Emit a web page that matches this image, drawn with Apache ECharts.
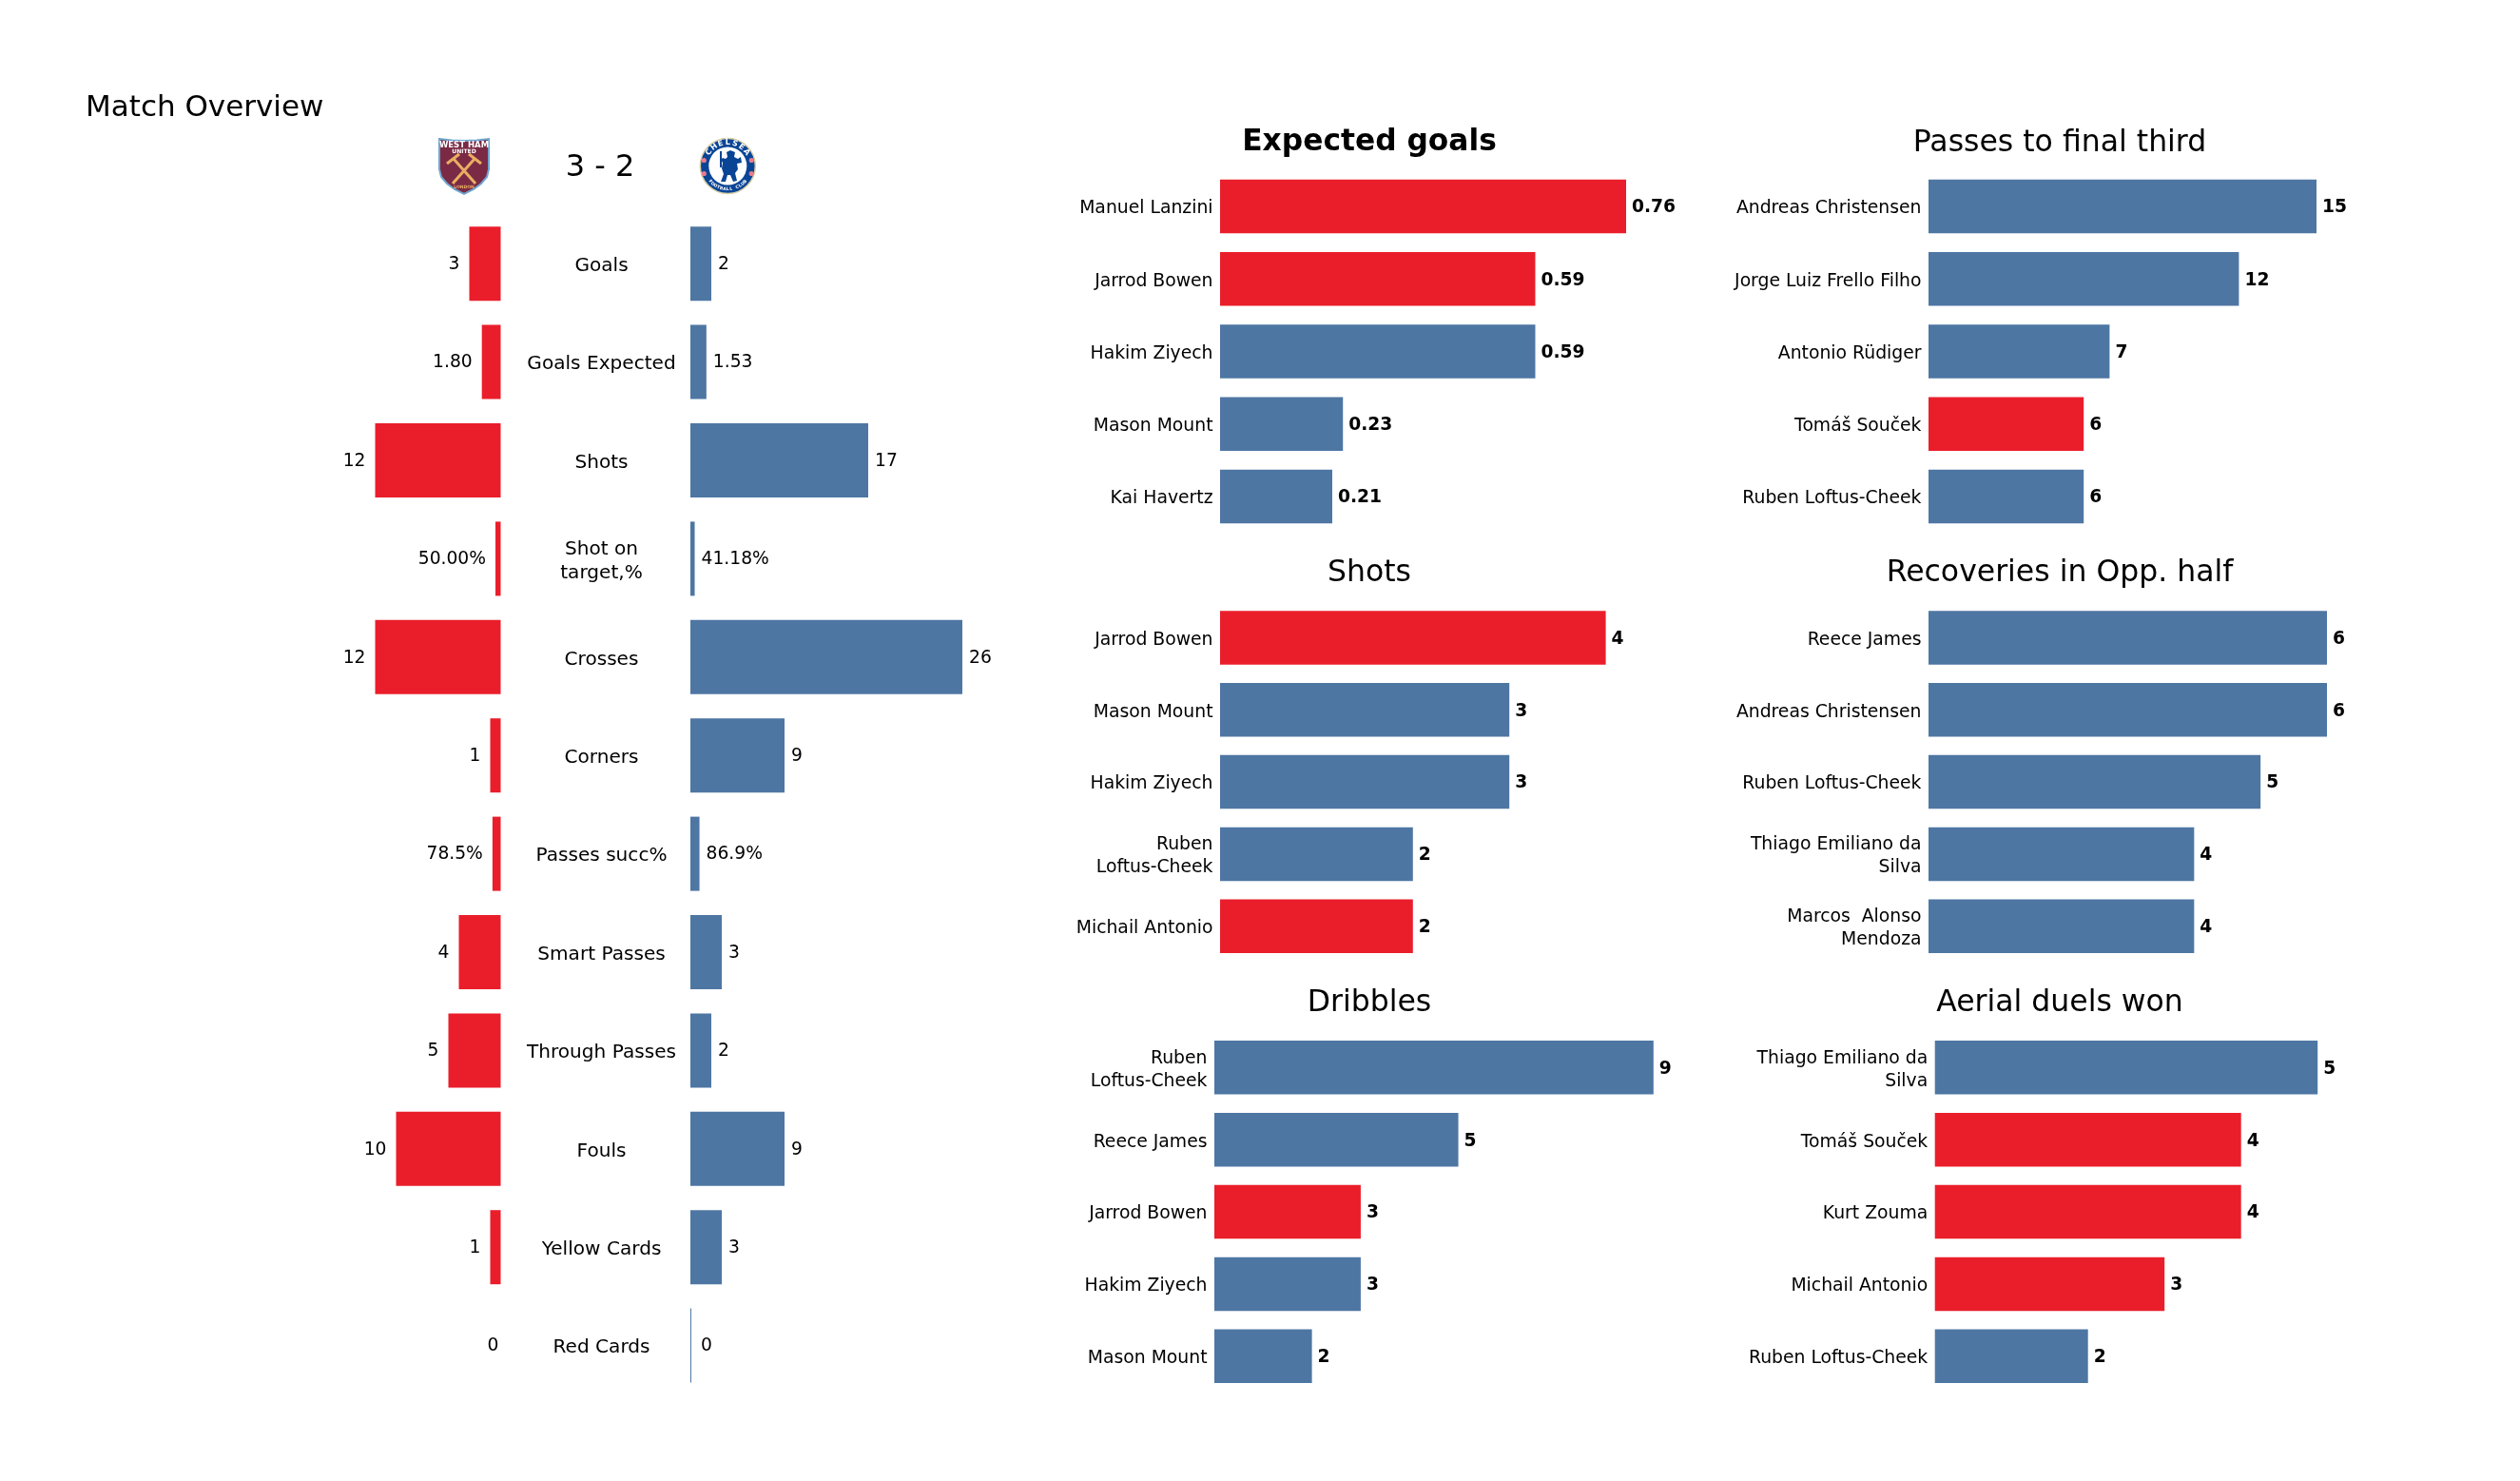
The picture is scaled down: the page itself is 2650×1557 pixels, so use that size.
<!DOCTYPE html>
<html>
<head>
<meta charset="utf-8">
<style>html,body{margin:0;padding:0;background:#fff}#c{width:2650px;height:1557px}</style>
<script src="https://cdn.jsdelivr.net/npm/echarts@6/dist/echarts.min.js"></script>
</head>
<body>
<div id="c"></div>
<script>
// ---- DATA ----
const overviewCategories = ['Goals','Goals Expected','Shots','Shot on\ntarget,%','Crosses','Corners','Passes succ%','Smart Passes','Through Passes','Fouls','Yellow Cards','Red Cards'];
const homeValues = [3,1.80,12,0.50,12,1,0.785,4,5,10,1,0];
const awayValues = [2,1.53,17,0.4118,26,9,0.869,3,2,9,3,0];
const homeLabels = ['3','1.80','12','50.00%','12','1','78.5%','4','5','10','1','0'];
const awayLabels = ['2','1.53','17','41.18%','26','9','86.9%','3','2','9','3','0'];

const xgNames = ['Manuel Lanzini','Jarrod Bowen','Hakim Ziyech','Mason Mount','Kai Havertz'];
const xgValues = [0.76,0.59,0.59,0.23,0.21];
const xgTeams = ['H','H','A','A','A'];

const passNames = ['Andreas Christensen','Jorge Luiz Frello Filho','Antonio Rüdiger','Tomáš Souček','Ruben Loftus-Cheek'];
const passValues = [15,12,7,6,6];
const passTeams = ['A','A','A','H','A'];

const shotNames = ['Jarrod Bowen','Mason Mount','Hakim Ziyech','Ruben\nLoftus-Cheek','Michail Antonio'];
const shotValues = [4,3,3,2,2];
const shotTeams = ['H','A','A','A','H'];

const recoveryNames = ['Reece James','Andreas Christensen','Ruben Loftus-Cheek','Thiago Emiliano da\nSilva','Marcos  Alonso\nMendoza'];
const recoveryValues = [6,6,5,4,4];
const recoveryTeams = ['A','A','A','A','A'];

const dribbleNames = ['Ruben\nLoftus-Cheek','Reece James','Jarrod Bowen','Hakim Ziyech','Mason Mount'];
const dribbleValues = [9,5,3,3,2];
const dribbleTeams = ['A','A','H','A','A'];

const aerialNames = ['Thiago Emiliano da\nSilva','Tomáš Souček','Kurt Zouma','Michail Antonio','Ruben Loftus-Cheek'];
const aerialValues = [5,4,4,3,2];
const aerialTeams = ['A','H','H','H','A'];

const scoreText = '3 - 2';
const mainTitle = 'Match Overview';

// ---- STYLE / LAYOUT ----
const FONT = '"DejaVu Sans", sans-serif';
const RED = '#EA1E2B', BLUE = '#4E76A3';
const teamColor = t => t === 'H' ? RED : BLUE;

const panels = [
  {title:'Expected goals', bold:true, names:xgNames, values:xgValues, teams:xgTeams, digits:2, left:1283, width:427, top:179, height:381, cx:1440, base:161.4},
  {title:'Passes to final third', names:passNames, values:passValues, teams:passTeams, left:2028, width:408, top:179, height:381, cx:2166, base:161.4},
  {title:'Shots', names:shotNames, values:shotValues, teams:shotTeams, left:1283, width:405.6, top:632.6, height:379, cx:1440, base:614},
  {title:'Recoveries in Opp. half', names:recoveryNames, values:recoveryValues, teams:recoveryTeams, left:2028, width:419, top:632.6, height:379, cx:2166, base:614},
  {title:'Dribbles', names:dribbleNames, values:dribbleValues, teams:dribbleTeams, left:1277, width:461.8, top:1084.4, height:379.3, cx:1440, base:1066},
  {title:'Aerial duels won', names:aerialNames, values:aerialValues, teams:aerialTeams, left:2034.7, width:402.5, top:1084.4, height:379.3, cx:2166, base:1066}
];

const grids = [], xAxes = [], yAxes = [], series = [], titles = [];

// Text sits a little below each bar's centre, so category names live on their
// own series-free axis, nudged down from the axis that carries the bars.
function addGrid(left, top, width, height, max, inverse, categories, labelOpts){
  const g = grids.length;
  grids.push({left, top, width, height});
  xAxes.push({gridIndex:g, type:'value', min:0, max, inverse:!!inverse, show:false});
  yAxes.push({gridIndex:g, type:'category', inverse:true, data:categories,
    axisLine:{show:false}, axisTick:{show:false},
    axisLabel: labelOpts ? Object.assign({show:true, interval:0, fontFamily:FONT, color:'#000'}, labelOpts) : {show:false}});
  return g;
}

// overview: home (left, growing leftwards) and away (right)
const OV_TOP = 225.5, OV_H = 1240.8, OV_W = 330, OV_MAX = 30;
const gHome = addGrid(526.5-OV_W, OV_TOP, OV_W, OV_H, OV_MAX, true, overviewCategories);
const gAway = addGrid(726, OV_TOP, OV_W, OV_H, OV_MAX, false, overviewCategories);
addGrid(726, OV_TOP+2.6, OV_W, OV_H, OV_MAX, false, overviewCategories, {margin:93.5, align:'center', fontSize:20.1, lineHeight:25});
series.push({type:'bar', name:'West Ham', xAxisIndex:gHome, yAxisIndex:gHome, barWidth:78, silent:true,
  data:homeValues.map((v,i)=>({value:v, itemStyle:{color:RED},
    label:{show:true, position:'left', distance:v===0?2:10, offset:[0,1], formatter:homeLabels[i], fontFamily:FONT, fontSize:18.7, color:'#000'}}))});
series.push({type:'bar', name:'Chelsea', xAxisIndex:gAway, yAxisIndex:gAway, barWidth:78, barMinHeight:1, silent:true,
  data:awayValues.map((v,i)=>({value:v, itemStyle:{color:BLUE},
    label:{show:true, position:'right', distance:v===0?10:7, offset:[0,1], formatter:awayLabels[i], fontFamily:FONT, fontSize:18.7, color:'#000'}}))});

// player panels
panels.forEach(p=>{
  const max = Math.max(...p.values);
  const g = addGrid(p.left, p.top, p.width, p.height, max, false, p.names);
  addGrid(p.left, p.top+2.5, p.width, p.height, max, false, p.names, {margin:7.5, align:'right', fontSize:18.8, lineHeight:24});
  series.push({type:'bar', xAxisIndex:g, yAxisIndex:g, barWidth:56.5, silent:true,
    data:p.values.map((v,i)=>({value:v, itemStyle:{color:teamColor(p.teams[i])}})),
    label:{show:true, position:'right', distance:6, offset:[0,1.5], fontFamily:FONT, fontSize:18.7, fontWeight:'bold', color:'#000',
      formatter:o=>p.digits ? o.value.toFixed(p.digits) : String(o.value)}});
  titles.push({text:p.title, left:p.cx, top:p.base-27, padding:0, textAlign:'center',
    textStyle:{fontFamily:FONT, fontSize:p.bold?31.3:31.5, fontWeight:p.bold?'bold':'normal', color:'#000'}});
});
titles.push({text:mainTitle, left:90, top:125.5-27, padding:0, textStyle:{fontFamily:FONT, fontSize:31, fontWeight:'normal', color:'#000'}});
titles.push({text:scoreText, left:631, top:187.3-27, padding:0, textAlign:'center', textStyle:{fontFamily:FONT, fontSize:32, fontWeight:'normal', color:'#000'}});

// ---- CRESTS ----
const crest = [];
// West Ham shield
const CLARET='#7A2A45', GOLD='#E9AE62', SKY='#6FA6CF';
crest.push({type:'polygon', z:10, shape:{points:[[462,146],[475,147.5],[488,148],[501,147.5],[514,146],[514,178],[512,186],[506,193],[498,199],[488,204],[478,199],[470,193],[464,186],[462,178]]},
  style:{fill:CLARET, stroke:SKY, lineWidth:2}});
crest.push({type:'text', z:11, x:488, y:152.5, style:{text:'WEST HAM', fill:'#fff', font:'bold 8.5px "DejaVu Sans"', align:'center', verticalAlign:'middle'}});
crest.push({type:'text', z:11, x:488, y:159.5, style:{text:'UNITED', fill:'#fff', font:'bold 6px "DejaVu Sans"', align:'center', verticalAlign:'middle'}});
[[477,167,500,193],[499,167,476,193],[470,172,483,162],[506,172,493,162]].forEach(s=>{
  crest.push({type:'line', z:11, shape:{x1:s[0],y1:s[1],x2:s[2],y2:s[3]}, style:{stroke:GOLD, lineWidth:3}});
});
crest.push({type:'text', z:11, x:488, y:196.5, style:{text:'LONDON', fill:GOLD, font:'bold 4.5px "DejaVu Sans"', align:'center', verticalAlign:'middle'}});
// Chelsea roundel
const CX=765.3, CY=174.5, NAVY='#0A4595', PINK='#E77C8E';
crest.push({type:'circle', z:10, shape:{cx:CX,cy:CY,r:29}, style:{fill:NAVY, stroke:'#D9CFA8', lineWidth:1.5}});
crest.push({type:'circle', z:11, shape:{cx:CX,cy:CY,r:20}, style:{fill:'#fff'}});
[[-25,-6],[25,-6],[-25,8],[25,8]].forEach(d=>{
  crest.push({type:'circle', z:11, shape:{cx:CX+d[0],cy:CY+d[1],r:2.6}, style:{fill:PINK}});
});
function arcText(str, radius, startDeg, stepDeg, top, size){
  [...str].forEach((ch,i)=>{
    const a = (startDeg + i*stepDeg)*Math.PI/180;
    crest.push({type:'text', z:12, x:CX+radius*Math.sin(a), y:CY-radius*Math.cos(a),
      rotation: top ? -a : Math.PI-a,
      style:{text:ch, fill:'#fff', font:'bold '+size+'px "DejaVu Sans"', align:'center', verticalAlign:'middle'}});
  });
}
arcText('CHELSEA', 24.5, -54, 18, true, 8);
arcText('FOOTBALL CLUB', 24.5, 228, -8, false, 4.5);
// lion with staff
crest.push({type:'line', z:12, shape:{x1:758,y1:159,x2:758,y2:176}, style:{stroke:NAVY, lineWidth:2}});
crest.push({type:'polygon', z:12, shape:{points:[[764,160],[768,158],[773,160],[772,165],[776,167],[779,165],[780,171],[775,172],[776,178],[773,182],[775,190],[771,191],[768,184],[765,184],[763,191],[758,191],[761,183],[759,177],[760,171],[758,168],[760,166],[763,167],[765,165]]},
  style:{fill:NAVY}});

const chart = echarts.init(document.getElementById('c'), null, {renderer:'canvas', width:2650, height:1557});
chart.setOption({
  animation:false,
  backgroundColor:'#fff',
  title:titles,
  grid:grids,
  xAxis:xAxes,
  yAxis:yAxes,
  series:series,
  graphic:crest
});
</script>
</body>
</html>
